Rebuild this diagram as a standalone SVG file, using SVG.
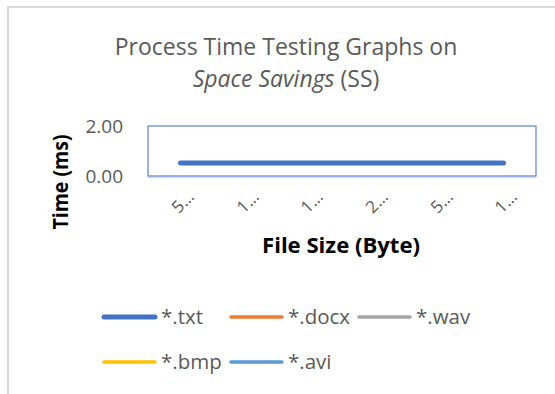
<svg xmlns="http://www.w3.org/2000/svg" width="555" height="394" viewBox="0 0 555 394">
  <style>
    .title { font-family: "Open Sans", "Liberation Sans", sans-serif; font-size: 23px; fill: #595959; text-anchor: middle; }
    .ylab { font-family: "Open Sans", "Liberation Sans", sans-serif; font-size: 19px; fill: #595959; text-anchor: end; }
    .tick { font-family: "Open Sans", "Liberation Sans", sans-serif; font-size: 17px; fill: #595959; text-anchor: end; }
    .axis-title { font-family: "Open Sans", "Liberation Sans", sans-serif; font-size: 21px; font-weight: bold; fill: #000000; text-anchor: middle; }
    .legend-text { font-family: "Open Sans", "Liberation Sans", sans-serif; font-size: 20.5px; fill: #595959; }
    .series { fill: none; stroke-linecap: round; }
  </style>

  <rect width="555" height="394" fill="#ffffff"/>

  <!-- chart frame -->
  <rect id="frame" x="8" y="7" width="570" height="410" fill="#ffffff" stroke="#d9d9d9" stroke-width="2"/>

  <!-- chart title -->
  <g id="title">
    <text class="title" x="286" y="54.5">Process Time Testing Graphs on</text>
    <text class="title" x="286" y="87"><tspan font-style="italic">Space Savings</tspan> (SS)</text>
  </g>

  <!-- plot area -->
  <g id="plot-area">
    <line x1="148" y1="177.5" x2="536" y2="177.5" stroke="#d9d9d9" stroke-width="1.5"/>
    <rect x="148" y="126" width="388" height="50" fill="none" stroke="#5b7fcc" stroke-width="1.2"/>
  </g>

  <!-- value axis -->
  <g id="value-axis">
    <text class="ylab" x="123" y="133">2.00</text>
    <text class="ylab" x="123" y="183">0.00</text>
    <text class="axis-title" transform="translate(68 182) rotate(-90)" x="0" y="0" textLength="95" lengthAdjust="spacingAndGlyphs">Time (ms)</text>
  </g>

  <!-- category axis -->
  <g id="category-axis">
    <text class="tick" transform="translate(195 198) rotate(-45)">5…</text>
    <text class="tick" transform="translate(260 198) rotate(-45)">1…</text>
    <text class="tick" transform="translate(324 198) rotate(-45)">1…</text>
    <text class="tick" transform="translate(389 198) rotate(-45)">2…</text>
    <text class="tick" transform="translate(454 198) rotate(-45)">5…</text>
    <text class="tick" transform="translate(518 198) rotate(-45)">1…</text>
    <text class="axis-title" x="341" y="253" font-size="22" textLength="158" lengthAdjust="spacingAndGlyphs">File Size (Byte)</text>
  </g>

  <!-- data series -->
  <g id="series">
    <line class="series" x1="180.5" y1="163" x2="503.5" y2="163" stroke="#4472c4" stroke-width="5"/>
  </g>

  <!-- legend -->
  <g id="legend">
    <g id="legend-txt">
      <line class="series" x1="104" y1="317" x2="155" y2="317" stroke="#4472c4" stroke-width="5"/>
      <text class="legend-text" x="161" y="323.5">*.txt</text>
    </g>
    <g id="legend-docx">
      <line class="series" x1="231" y1="317" x2="282" y2="317" stroke="#ed7d31" stroke-width="3.5"/>
      <text class="legend-text" x="288" y="323.5">*.docx</text>
    </g>
    <g id="legend-wav">
      <line class="series" x1="359" y1="317" x2="410" y2="317" stroke="#a5a5a5" stroke-width="3.5"/>
      <text class="legend-text" x="416" y="323.5">*.wav</text>
    </g>
    <g id="legend-bmp">
      <line class="series" x1="104" y1="362" x2="155" y2="362" stroke="#ffc000" stroke-width="3.5"/>
      <text class="legend-text" x="161" y="368.5">*.bmp</text>
    </g>
    <g id="legend-avi">
      <line class="series" x1="231" y1="362" x2="282" y2="362" stroke="#5b9bd5" stroke-width="3.5"/>
      <text class="legend-text" x="288" y="368.5">*.avi</text>
    </g>
  </g>
</svg>
